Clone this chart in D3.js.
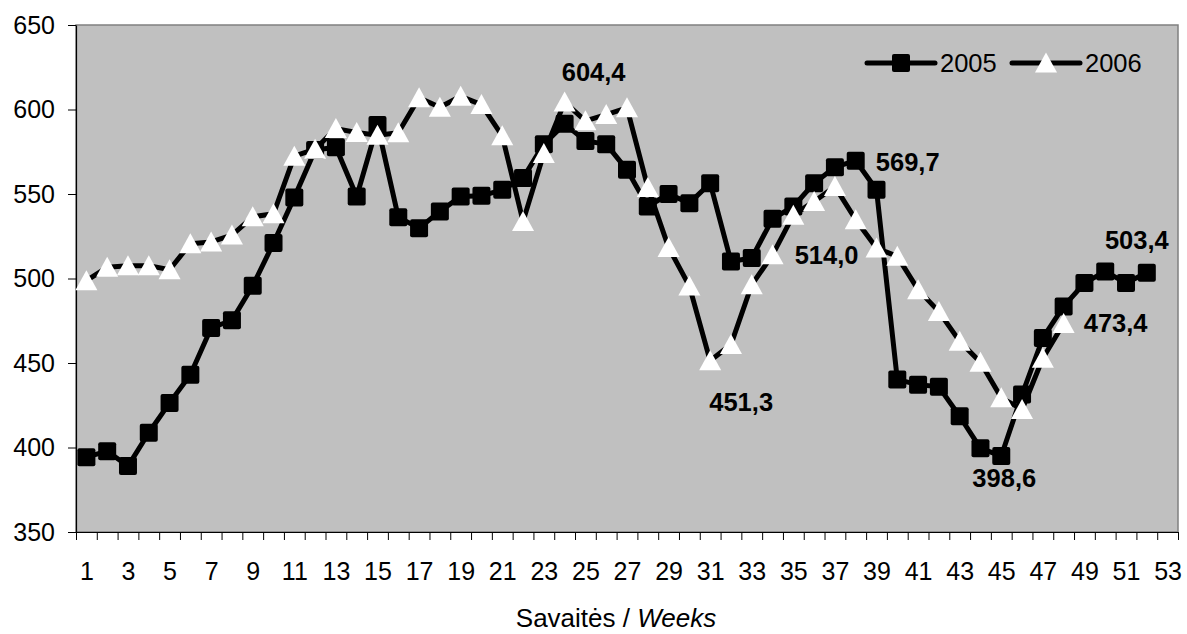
<!DOCTYPE html>
<html>
<head>
<meta charset="utf-8">
<script src="https://cdn.jsdelivr.net/npm/d3@7"></script>
<style>
  html, body { margin: 0; padding: 0; background: #fff; }
  svg { display: block; font-family: "Liberation Sans", Arial, sans-serif; }
</style>
</head>
<body>
<div id="chart"></div>
<script>
// weekly values
const weeks = d3.range(1, 54);
const xTickLabels = [1, 3, 5, 7, 9, 11, 13, 15, 17, 19, 21, 23, 25, 27, 29, 31, 33, 35, 37, 39, 41, 43, 45, 47, 49, 51, 53];
const yTickLabels = [350, 400, 450, 500, 550, 600, 650];

const values2005 = [
  394.3, 397.8, 389.0, 408.7, 426.4, 443.1, 470.7, 475.3, 495.7, 521.0,
  548.0, 576.0, 577.7, 548.5, 590.9, 536.3, 529.8, 539.7, 548.5, 548.9,
  552.5, 559.4, 579.5, 591.5, 581.4, 579.5, 564.3, 542.6, 550.0, 544.6,
  556.4, 510.1, 512.1, 535.3, 542.6, 556.4, 565.9, 569.7, 552.5, 440.2,
  437.2, 435.9, 418.5, 399.5, 395.0, 431.3, 464.8, 483.5, 497.3, 504.2,
  497.3, 503.4
];
const values2006 = [
  498.7, 506.6, 507.6, 507.6, 505.2, 520.6, 521.6, 525.7, 536.5, 538.3,
  572.4, 576.5, 588.7, 586.4, 584.8, 586.2, 606.9, 601.3, 607.8, 602.9,
  584.4, 533.8, 574.0, 604.4, 593.3, 597.0, 601.0, 553.9, 518.4, 495.5,
  451.3, 460.9, 496.3, 514.0, 537.5, 545.6, 554.4, 534.8, 518.0, 513.1,
  493.4, 480.4, 462.8, 450.4, 429.4, 422.5, 452.8, 473.4
];

// data labels shown on the chart: series, week, text
const dataLabels = [
  { series: '2006', week: 24, text: '604,4' },
  { series: '2006', week: 31, text: '451,3' },
  { series: '2006', week: 34, text: '514,0' },
  { series: '2005', week: 38, text: '569,7' },
  { series: '2005', week: 45, text: '398,6' },
  { series: '2006', week: 48, text: '473,4' },
  { series: '2005', week: 52, text: '503,4' }
];
// where each label sits relative to its point (px)
const labelOffsets = {
  '604,4': [29, -30], '451,3': [31, 41], '514,0': [54, 0], '569,7': [52, 1],
  '398,6': [3, 22], '473,4': [52, 0], '503,4': [-10, -33]
};

const W = 1187, H = 634;
const plot = { left: 76, right: 1178, top: 25, bottom: 532 };

const svg = d3.select('#chart').append('svg')
  .attr('width', W).attr('height', H);

const x = d3.scaleLinear().domain([0.5, 53.5]).range([plot.left, plot.right]);
const y = d3.scaleLinear().domain([350, 650]).range([plot.bottom, plot.top]);

// plot background
svg.append('rect')
  .attr('x', plot.left).attr('y', plot.top)
  .attr('width', plot.right - plot.left).attr('height', plot.bottom - plot.top)
  .attr('fill', '#c0c0c0')
  .attr('stroke', '#808080')
  .attr('stroke-width', 1.5);

// y axis
const yAxis = svg.append('g')
  .attr('transform', `translate(${plot.left},0)`)
  .call(d3.axisLeft(y).tickValues(yTickLabels).tickSize(8).tickPadding(13).tickSizeOuter(0));
yAxis.select('.domain').attr('stroke', '#000').attr('stroke-width', 1.2);
yAxis.selectAll('.tick line').attr('stroke', '#000');
yAxis.selectAll('text').attr('font-size', '25px').attr('fill', '#000')
  .attr('font-family', '"Liberation Sans", Arial, sans-serif');

// x axis: ticks between weeks, labels on odd weeks
const xTicks = svg.append('g')
  .attr('transform', `translate(0,${plot.bottom})`)
  .call(d3.axisBottom(x).tickValues(weeks.map(w => w - 0.5).concat([53.5]))
    .tickSize(8).tickFormat('').tickSizeOuter(0));
xTicks.select('.domain').attr('stroke', '#000').attr('stroke-width', 1.2);
xTicks.selectAll('.tick line').attr('stroke', '#000');

const xLabels = svg.append('g')
  .attr('transform', `translate(0,${plot.bottom})`)
  .call(d3.axisBottom(x).tickValues(xTickLabels).tickSize(0).tickPadding(30));
xLabels.select('.domain').remove();
xLabels.selectAll('text').attr('font-size', '25px').attr('fill', '#000')
  .attr('font-family', '"Liberation Sans", Arial, sans-serif');

// axis title
const title = svg.append('text')
  .attr('x', 616).attr('y', 627)
  .attr('text-anchor', 'middle')
  .attr('font-size', '26px')
  .attr('fill', '#000');
title.append('tspan').text('Savaitės / ');
title.append('tspan').attr('font-style', 'italic').text('Weeks');

// series
const line = d3.line()
  .x((d, i) => x(i + 1))
  .y(d => y(d));

const triangle = 'M0,-10.5 L11,9.5 L-11,9.5 Z';

function drawSeries(values, marker) {
  const g = svg.append('g');
  g.append('path')
    .datum(values)
    .attr('d', line)
    .attr('fill', 'none')
    .attr('stroke', '#000')
    .attr('stroke-width', 5)
    .attr('stroke-linejoin', 'round');

  if (marker === 'square') {
    g.selectAll('rect')
      .data(values)
      .enter().append('rect')
      .attr('x', (d, i) => x(i + 1) - 9)
      .attr('y', d => y(d) - 9)
      .attr('width', 18).attr('height', 18)
      .attr('rx', 2)
      .attr('fill', '#000');
  } else {
    g.selectAll('path.tri')
      .data(values)
      .enter().append('path')
      .attr('class', 'tri')
      .attr('d', triangle)
      .attr('transform', (d, i) => `translate(${x(i + 1)},${y(d)})`)
      .attr('fill', '#fff');
  }
}

drawSeries(values2005, 'square');
drawSeries(values2006, 'triangle');

// data labels
const seriesValues = { '2005': values2005, '2006': values2006 };
svg.append('g').selectAll('text')
  .data(dataLabels)
  .enter().append('text')
  .attr('x', d => x(d.week) + labelOffsets[d.text][0])
  .attr('y', d => y(seriesValues[d.series][d.week - 1]) + labelOffsets[d.text][1])
  .attr('dy', '0.35em')
  .attr('text-anchor', 'middle')
  .attr('font-size', '25.5px')
  .attr('font-weight', 'bold')
  .attr('fill', '#000')
  .text(d => d.text);

// legend
const legendItems = [
  { name: '2005', marker: 'square', x0: 867 },
  { name: '2006', marker: 'triangle', x0: 1012 }
];
const legendY = 63;
const lg = svg.append('g').selectAll('g')
  .data(legendItems)
  .enter().append('g')
  .attr('transform', d => `translate(${d.x0},${legendY})`);
lg.append('line')
  .attr('x1', 0).attr('x2', 68)
  .attr('stroke', '#000').attr('stroke-width', 5)
  .attr('stroke-linecap', 'round');
lg.filter(d => d.marker === 'square').append('rect')
  .attr('x', 25).attr('y', -9).attr('width', 18).attr('height', 18)
  .attr('rx', 2).attr('fill', '#000');
lg.filter(d => d.marker === 'triangle').append('path')
  .attr('d', triangle)
  .attr('transform', 'translate(34,0)')
  .attr('fill', '#fff');
lg.append('text')
  .attr('x', 73).attr('dy', '0.35em')
  .attr('font-size', '25.5px')
  .attr('fill', '#000')
  .text(d => d.name);
</script>
</body>
</html>
